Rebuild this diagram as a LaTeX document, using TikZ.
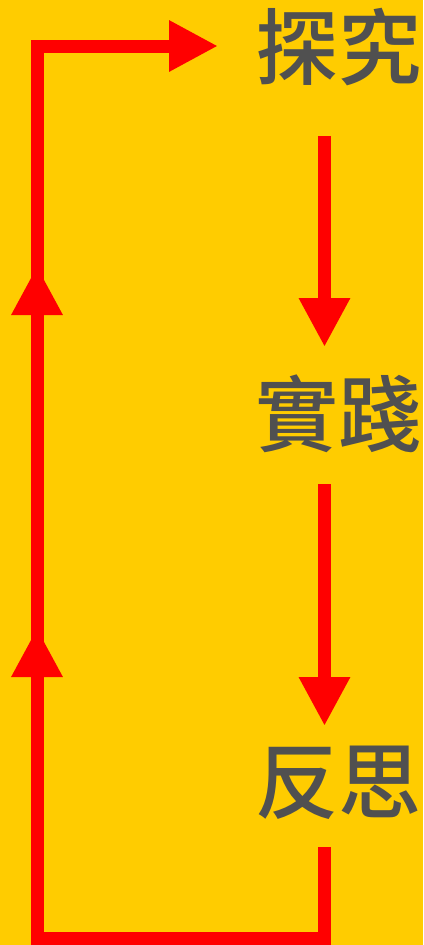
\documentclass[tikz,border=0pt]{standalone}
\usepackage{fontspec}
\newfontfamily\cjk[UprightFont={* Medium}]{Noto Sans CJK TC}
\usetikzlibrary{arrows.meta}

\begin{document}
\begin{tikzpicture}[x=1pt, y=-1pt, >={Triangle[length=49pt,width=48pt]}]
        \definecolor{bgcolor}{HTML}{FFCC00}
        \definecolor{textcolor}{HTML}{505050}
        \tikzset{
            stage/.style={text=textcolor, font=\cjk\fontsize{83}{90}\selectfont, inner sep=0pt},
            flow/.style={draw=red, line width=13pt},
        }

        % Background
        \fill[bgcolor] (0, 0) rectangle (423, 945);
        \useasboundingbox (0, 0) rectangle (423, 945);

        % Stages
        \node[stage] (tan) at (338, 47) {探究};
        \node[stage] (shi) at (338, 414) {實踐};
        \node[stage] (fan) at (338, 783) {反思};

        % Connector ends
        \coordinate (tanout) at (324.5, 136);
        \coordinate (shiin) at (324.5, 347);
        \coordinate (shiout) at (324.5, 484);
        \coordinate (fanin) at (324.5, 726);
        \coordinate (fanout) at (324.5, 847);
        \coordinate (bottomright) at (324.5, 938);
        \coordinate (bottomleft) at (37, 938);
        \coordinate (lowtip) at (37, 628);
        \coordinate (hightip) at (37, 266);
        \coordinate (topleft) at (37, 46);
        \coordinate (tanin) at (218, 46);

        % Downward arrows
        \draw[flow, ->] (tanout) -- (shiin);
        \draw[flow, ->] (shiout) -- (fanin);

        % Loop back
        \draw[flow, line join=miter] (fanout) -- (bottomright) -- (bottomleft) -- (topleft) -- ([xshift=10pt]topleft);
        \draw[flow, ->] (topleft) -- (tanin);
        \draw[flow, ->] (bottomleft) -- (lowtip);
        \draw[flow, ->] (lowtip) -- (hightip);
\end{tikzpicture}
\end{document}
